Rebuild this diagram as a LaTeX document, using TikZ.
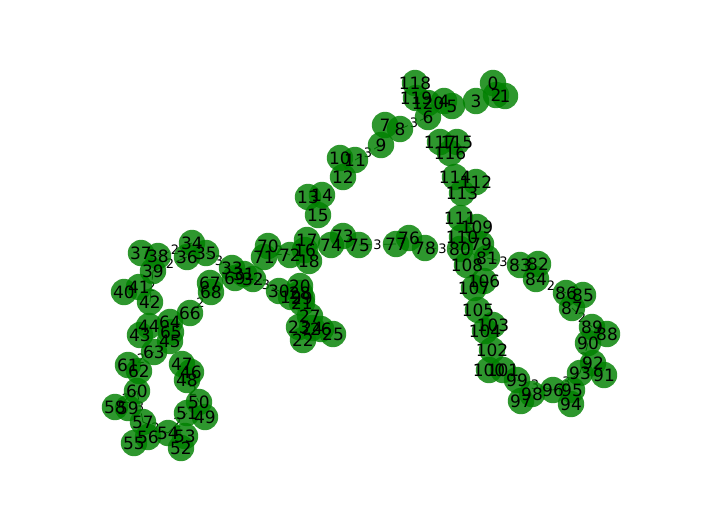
\documentclass[tikz,border=0pt]{standalone}
\usepackage{fontspec}
\setmainfont{DejaVu Sans}
\begin{document}
\begin{tikzpicture}[x=1pt,y=-1pt,
  dot/.style={circle,fill={rgb,255:red,0;green,128;blue,0},fill opacity=0.82,draw=none,minimum size=26.4pt,inner sep=0pt},
  lab/.style={inner sep=0pt,text=black,font=\fontsize{17}{17}\selectfont},
  edgeline/.style={draw=black,line width=0.8pt},
  elabel/.style={fill=white,rounded corners=2pt,inner sep=2pt,text=black,font=\fontsize{13}{13}\selectfont}]
\useasboundingbox (0,0) rectangle (704,528);
\foreach \n/\x/\y in {0/493/83,1/505/96,2/496/95,3/476/101,4/444/101,5/452/106,6/428/117,7/385/125,8/400/129,9/381/145,
10/340/158,11/355/160,12/343/177,13/308/197,14/322/195,15/318/215,16/305/250,17/307/240,18/309/261,19/291/297,
20/300/286,21/302/303,22/303/340,23/299/327,24/312/328,25/333/334,26/321/329,27/310/316,28/300/293,29/302/298,
30/279/291,31/244/274,32/253/279,33/232/268,34/192/243,35/206/253,36/187/257,37/141/253,38/158/256,39/153/271,
40/124/292,41/139/287,42/150/302,43/140/335,44/149/326,45/170/341,46/191/372,47/182/364,48/187/380,49/205/417,
50/199/402,51/187/413,52/181/448,53/185/436,54/168/433,55/134/443,56/148/437,57/143/422,58/115/407,59/128/408,
60/137/391,61/128/365,62/139/371,63/154/352,64/170/322,65/171/332,66/190/313,67/210/283,68/211/292,69/235/278,
70/268/246,71/264/257,72/290/255,73/343/236,74/331/245,75/359/245,76/409/238,77/396/244,78/425/248,79/481/244,
80/460/249,81/487/258,82/538/264,83/520/265,84/536/279,85/583/295,86/566/293,87/572/308,88/607/334,89/592/327,
90/588/343,91/604/375,92/593/363,93/580/373,94/571/404,95/572/390,96/553/390,97/521/401,98/532/394,99/517/380,
100/489/370,101/503/370,102/492/350,103/493/325,104/485/331,105/478/310,106/484/281,107/474/288,108/467/265,109/477/227,
110/462/237,111/460/218,112/476/182,113/462/193,114/455/177,115/457/142,116/450/153,117/440/142,118/415/83,119/416/98,
120/428/103}
  \coordinate (p\n) at (\x,\y);
% edges with their labels (under the nodes)
\foreach \a/\b/\w in {6/8/3,9/11/3,33/35/3,36/39/2,34/38/2,39/42/2,66/68/2,30/32/3,70/72/2,75/77/3,78/80/3,81/83/3,
84/86/2,87/89/2,90/93/2,93/96/3,96/99/3,61/63/2,58/60/2,57/60/3,54/57/2,48/50/2,51/54/2}
  \draw[edgeline] (p\a) -- node[elabel] (e\a-\b) {\w} (p\b);
% nodes
\foreach \n in {0,...,120}
  \node[dot] (n\n) at (p\n) {};
% node labels
\foreach \n in {0,...,120}
  \node[lab] (t\n) at (n\n) {\n};
\end{tikzpicture}
\end{document}
